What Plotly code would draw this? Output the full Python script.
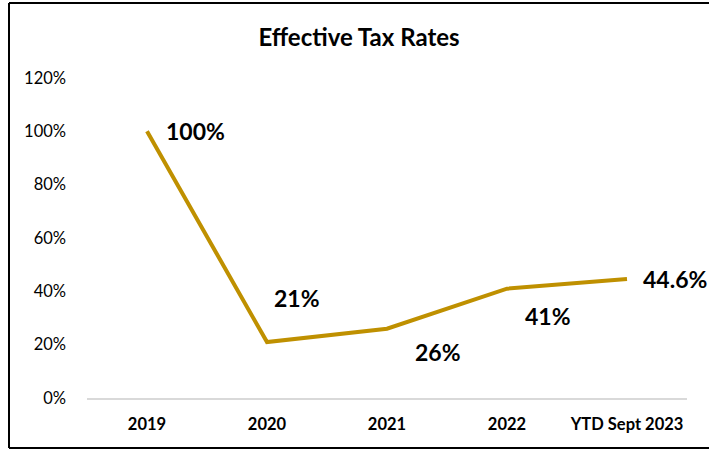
import plotly.graph_objects as go

categories = ["2019", "2020", "2021", "2022", "YTD Sept 2023"]
tax_rates = [1.00, 0.21, 0.26, 0.41, 0.446]
rate_labels = ["100%", "21%", "26%", "41%", "44.6%"]
y_ticks = [0, 0.2, 0.4, 0.6, 0.8, 1.0, 1.2]

# label offsets in pixels (xshift, yshift)
label_offsets = [(48, 0), (30, 44), (51, -23), (41, -27), (48, 0)]

FONT = "Lato, Calibri, Carlito, sans-serif"
GOLD = "#BF9000"

fig = go.Figure()
fig.add_trace(go.Scatter(
    x=categories, y=tax_rates, mode="lines",
    line=dict(color=GOLD, width=4), hoverinfo="skip", showlegend=False,
))

for i, (v, t, (dx, dy)) in enumerate(zip(tax_rates, rate_labels, label_offsets)):
    fig.add_annotation(x=i, y=v, text="<b>%s</b>" % t, showarrow=False,
                       xshift=dx, yshift=dy, xanchor="center", yanchor="middle",
                       font=dict(family=FONT, size=23, color="#000000"))

fig.update_layout(
    width=709, height=451,
    margin=dict(l=87, r=22, t=78, b=53),
    paper_bgcolor="white", plot_bgcolor="white",
    title=dict(text="<b>Effective Tax Rates</b>", x=359/709, xanchor="center",
               y=1 - 38/451, yanchor="middle",
               font=dict(family=FONT, size=24, color="#000000")),
    font=dict(family=FONT, color="#000000"),
    xaxis=dict(type="category", range=[-0.5, len(categories) - 0.5],
               showgrid=False, showline=True, linecolor="#D9D9D9",
               linewidth=1.5, ticks="", tickfont=dict(family=FONT, size=16.5, color="#000000",
               weight="bold"), ticklabelstandoff=10, fixedrange=True),
    yaxis=dict(range=[0, 1.2], tickvals=y_ticks, tickformat=".0%", showgrid=False,
               zeroline=False, showline=False, ticks="",
               tickfont=dict(family=FONT, size=16.5, color="#000000"),
               ticklabelstandoff=20, fixedrange=True),
)

# outer chart border: left, top and bottom edges (right edge lies outside the picture)
bx0, bx1 = (9 - 87) / 600, (720 - 87) / 600
by0, by1 = (398 - 448) / 320, (398 - 3) / 320
for x0, y0, x1, y1 in [(bx0, by0, bx0, by1), (bx0, by1, bx1, by1), (bx0, by0, bx1, by0)]:
    fig.add_shape(type="line", xref="paper", yref="paper", x0=x0, y0=y0, x1=x1, y1=y1,
                  line=dict(color="#000000", width=2), layer="above")

fig.write_html("out.html", config={"displayModeBar": False},
               post_script="document.body.style.margin='0px';document.body.style.overflow='hidden';")
